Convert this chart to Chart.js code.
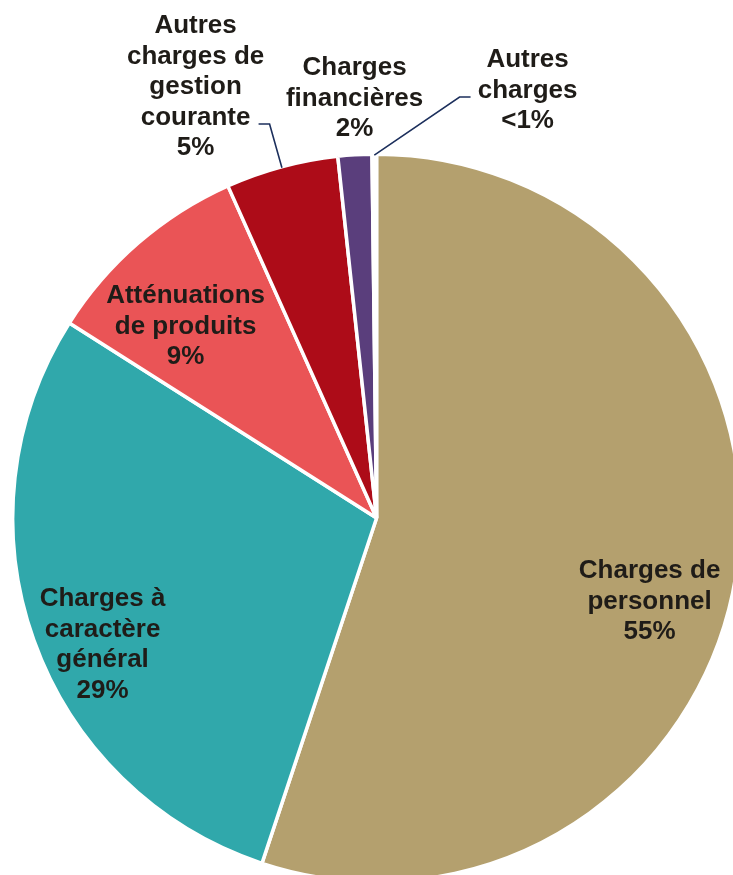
<!DOCTYPE html>
<html lang="fr">
<head>
<meta charset="utf-8">
<title>Répartition des dépenses de fonctionnement</title>
<script src="https://cdn.jsdelivr.net/npm/chart.js@4/dist/chart.umd.min.js"></script>
<style>
  html, body { margin: 0; padding: 0; background: #fff; overflow: hidden; }
  #wrap { position: absolute; left: 0; top: 0; width: 760px; height: 900px; }
</style>
</head>
<body>
<div id="wrap"><canvas id="pieCanvas"></canvas></div>
<script>
// Postes de dépenses, dans l'ordre horaire depuis midi.
const CATEGORIES = [
  ['Charges de', 'personnel'],
  ['Charges à', 'caractère', 'général'],
  ['Atténuations', 'de produits'],
  ['Autres', 'charges de', 'gestion', 'courante'],
  ['Charges', 'financières'],
  ['Autres', 'charges']
];
// Part de chaque poste, en %.
const SHARES = [55.1, 28.9, 9.3, 5.0, 1.5, 0.2];
const COLORS = ['#b4a06e', '#30a8ab', '#ea5456', '#ad0c18', '#5a3e7c', '#ffffff'];

// Position du bloc de texte (centre, 1re ligne de base) par rapport au centre du camembert.
const LABEL_POS = [
  { dx: 273, dy: 60 },
  { dx: -274, dy: 88 },
  { dx: -191, dy: -215 },
  { dx: -181, dy: -485 },
  { dx: -22, dy: -443 },
  { dx: 151, dy: -451 }
];
// Traits de rappel pour les petites parts : départ près du texte, coude, puis bord de la part.
const LEADERS = {
  3: [{ dx: -118, dy: -394 }, { dx: -107, dy: -394 }],
  5: [{ dx: 94, dy: -421 }, { dx: 83, dy: -421 }]
};

function pctText(v) {
  return v < 1 ? '<1%' : Math.round(v) + '%';
}

const pieLabels = {
  id: 'pieLabels',
  afterDatasetsDraw(chart) {
    const ctx = chart.ctx;
    const arcs = chart.getDatasetMeta(0).data;
    if (!arcs.length) return;
    const cx = arcs[0].x, cy = arcs[0].y;

    ctx.save();
    // traits de rappel
    ctx.strokeStyle = '#1c2f5c';
    ctx.lineWidth = 1.6;
    ctx.lineJoin = 'miter';
    Object.keys(LEADERS).forEach(k => {
      const arc = arcs[k];
      const p = arc.getProps(['startAngle', 'endAngle', 'outerRadius'], true);
      const mid = (p.startAngle + p.endAngle) / 2;
      const r = p.outerRadius - 1;
      const pts = LEADERS[k];
      ctx.beginPath();
      ctx.moveTo(cx + pts[0].dx, cy + pts[0].dy);
      ctx.lineTo(cx + pts[1].dx, cy + pts[1].dy);
      ctx.lineTo(cx + Math.cos(mid) * r, cy + Math.sin(mid) * r);
      ctx.stroke();
    });

    // textes
    ctx.fillStyle = '#1f1c18';
    ctx.font = 'bold 26px "Liberation Sans", Arial, Helvetica, sans-serif';
    ctx.textAlign = 'center';
    ctx.textBaseline = 'alphabetic';
    const lh = 30.5;
    CATEGORIES.forEach((lines, i) => {
      const all = lines.concat([pctText(SHARES[i])]);
      const x = cx + LABEL_POS[i].dx;
      const y0 = cy + LABEL_POS[i].dy;
      all.forEach((t, j) => ctx.fillText(t, x, y0 + j * lh));
    });
    ctx.restore();
  }
};

new Chart(document.getElementById('pieCanvas'), {
  type: 'pie',
  data: {
    labels: CATEGORIES,
    datasets: [{
      data: SHARES,
      backgroundColor: COLORS,
      borderColor: '#ffffff',
      borderWidth: 3.5,
      hoverOffset: 0
    }]
  },
  options: {
    responsive: true,
    maintainAspectRatio: false,
    animation: false,
    layout: { padding: { left: 10.95, top: 152.25, right: 17.8, bottom: 16.25 } },
    plugins: {
      legend: { display: false },
      tooltip: { enabled: false }
    }
  },
  plugins: [pieLabels]
});
</script>
</body>
</html>
